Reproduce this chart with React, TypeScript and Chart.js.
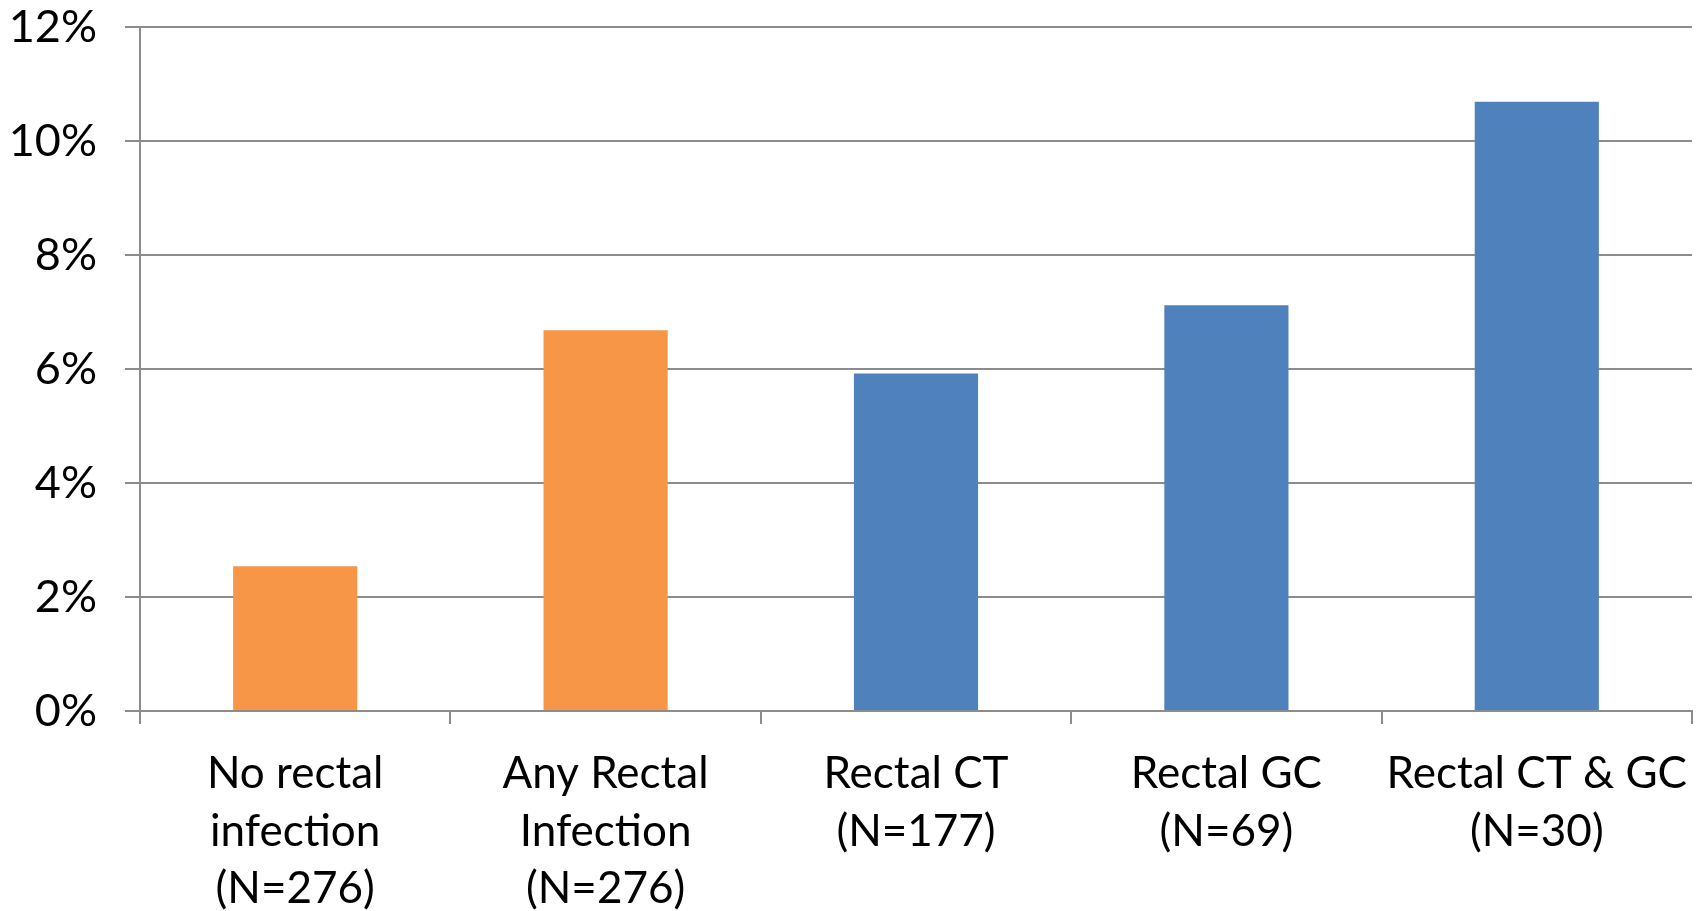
import React, { useEffect, useRef } from "react";
import { Chart, registerables } from "chart.js";

Chart.register(...registerables);

const categories: string[][] = [
  ["No rectal", "infection", "(N=276)"],
  ["Any Rectal", "Infection", "(N=276)"],
  ["Rectal CT", "(N=177)"],
  ["Rectal GC", "(N=69)"],
  ["Rectal CT & GC", "(N=30)"],
];
const values: number[] = [2.54, 6.68, 5.92, 7.12, 10.69];
const barColors: string[] = ["#F79646", "#F79646", "#4F81BD", "#4F81BD", "#4F81BD"];
const yTicks: number[] = [0, 2, 4, 6, 8, 10, 12];

const FONT = "Lato, 'Open Sans', sans-serif";
const GRID = "#8C8C8C";

export default function App() {
  const ref = useRef<HTMLCanvasElement | null>(null);
  useEffect(() => {
    if (!ref.current) return;
    const chart = new Chart(ref.current, {
      type: "bar",
      data: {
        labels: categories,
        datasets: [
          {
            data: values,
            backgroundColor: barColors,
            borderWidth: 0,
            barPercentage: 0.4,
            categoryPercentage: 1,
          },
        ],
      },
      options: {
        animation: false,
        responsive: false,
        maintainAspectRatio: false,
        layout: { padding: { top: 27, right: 8, left: 0, bottom: 0 } },
        plugins: { legend: { display: false }, tooltip: { enabled: false }, title: { display: false } },
        scales: {
          x: {
            offset: true,
            grid: {
              offset: true,
              drawOnChartArea: false,
              drawTicks: true,
              tickLength: 13,
              color: GRID,
              lineWidth: 2,
            },
            border: { display: true, color: GRID, width: 2 },
            ticks: {
              color: "#000",
              font: { family: FONT, size: 44, lineHeight: 1.31 },
              padding: 21,
              maxRotation: 0,
              autoSkip: false,
            },
            afterFit: (s: any) => {
              s.height = 200;
              s.paddingLeft = 0;
              s.paddingRight = 0;
            },
          },
          y: {
            min: 0,
            max: 12,
            afterBuildTicks: (s: any) => {
              s.ticks = yTicks.map((v) => ({ value: v }));
            },
            grid: { color: GRID, lineWidth: 2, tickLength: 15, drawTicks: true },
            border: { display: true, color: GRID, width: 2 },
            ticks: {
              color: "#000",
              font: { family: FONT, size: 45 },
              padding: 28,
              callback: (v: any) => v + "%",
            },
            afterFit: (s: any) => {
              s.width = 140;
              s.paddingTop = 0;
              s.paddingBottom = 0;
            },
          },
        },
      },
    });
    return () => chart.destroy();
  }, []);
  return (
    <div style={{ position: "fixed", left: 0, top: 0, width: 1700, height: 911, background: "#fff" }}>
      <canvas ref={ref} width={1700} height={911} style={{ width: 1700, height: 911 }} />
    </div>
  );
}
